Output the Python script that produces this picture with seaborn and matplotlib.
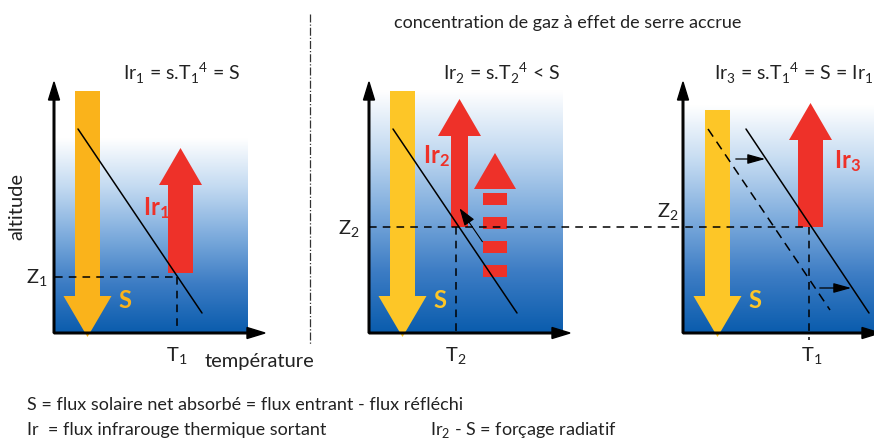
import numpy as np
import matplotlib
matplotlib.use("Agg")
import matplotlib.pyplot as plt
import seaborn as sns
from matplotlib.colors import LinearSegmentedColormap
from matplotlib.patches import FancyArrow, Polygon, Rectangle

sns.set_theme(style="white")
plt.rcParams["font.family"] = ["Lato", "DejaVu Sans"]
plt.rcParams["mathtext.fontset"] = "custom"
plt.rcParams["mathtext.rm"] = "Lato"
plt.rcParams["mathtext.bf"] = "Lato:bold"

# schéma en coordonnées pixel (x vers la droite, y vers le bas)
W, H = 874, 441

panel_x0 = [54, 369, 683]            # axe des altitudes
panel_x1 = [265, 570, 880]           # bout de l'axe des températures
grad_x1 = [248, 563, 874]
grad_top = [138, 90, 105]
axis_y = 333
axis_top = 82

titles = [r"Ir$_1$ = s.T$_1$$^4$ = S", r"Ir$_2$ = s.T$_2$$^4$ < S",
          r"Ir$_3$ = s.T$_1$$^4$ = S = Ir$_1$"]
title_x = [182, 502, 714]
title_ha = ["center", "center", "left"]

# profils de température (x0, y0, x1, y1)
lapse_solid = [(78, 129, 202, 313), (393, 129, 517, 313), (746, 129, 869, 313)]
lapse_dashed = [(708, 129, 830, 310)]

# flèches solaires (x centre, y départ, y pointe)
sun_x = [87.5, 402.5, 717.5]
sun_y0 = [91, 91, 110]
sun_tip = 337
sun_colors = ["#fab31b", "#fdc627", "#fdc627"]

# flèches infrarouges (x centre, y départ, y pointe, largeur)
ir_x = [180.5, 459.5, 810.5]
ir_y0 = [273, 227, 227]
ir_tip = [148, 99, 103]
ir_w = [25, 17, 25]
ir_labels = [r"$\mathbf{Ir_1}$", r"$\mathbf{Ir_2}$", r"$\mathbf{Ir_3}$"]
ir_label_xy = [(156, 208), (436, 156), (847, 161)]

# niveaux d'émission et températures
z_levels = [("Z$_1$", 55, 177, 277), ("Z$_2$", 369, 807, 227)]
z_label_xy = [(37, 278), (349, 229), (668, 212)]
t_lines = [(177, 277, 333), (456, 227, 333), (809, 227, 340)]
t_labels = [("T$_1$", 177), ("T$_2$", 456), ("T$_1$", 812)]

red = "#ee3129"
txt = "#222222"
blues = LinearSegmentedColormap.from_list(
    "atm", ["#ffffff", "#c3daf1", "#7eacdd", "#3c7cc4", "#0a5cad"])

fig = plt.figure(figsize=(W / 100, H / 100), dpi=100)
ax = fig.add_axes([0, 0, 1, 1])
ax.set_xlim(0, W)
ax.set_ylim(H, 0)
ax.axis("off")

grad = np.linspace(0, 1, 256).reshape(-1, 1)
for i in range(3):
    ax.imshow(grad, cmap=blues, aspect="auto", zorder=1,
              extent=(panel_x0[i], grad_x1[i], axis_y, grad_top[i]))

for i in range(3):
    # axes
    ax.add_patch(FancyArrow(panel_x0[i], axis_y, 0, axis_top - axis_y, width=1.6,
                            head_width=11, head_length=18, length_includes_head=True,
                            color="black", zorder=6))
    ax.add_patch(FancyArrow(panel_x0[i], axis_y, panel_x1[i] - panel_x0[i], 0, width=1.6,
                            head_width=11, head_length=18, length_includes_head=True,
                            color="black", zorder=6))
    # flux solaire
    ax.add_patch(FancyArrow(sun_x[i], sun_y0[i], 0, sun_tip - sun_y0[i], width=25,
                            head_width=48, head_length=41, length_includes_head=True,
                            color=sun_colors[i], lw=0, zorder=3))
    ax.text(sun_x[i] + 37, 300, "S", color=sun_colors[i], fontsize=17,
            fontweight="bold", ha="center", va="center", zorder=7)
    # flux infrarouge
    ax.add_patch(FancyArrow(ir_x[i], ir_y0[i], 0, ir_tip[i] - ir_y0[i], width=ir_w[i],
                            head_width=43, head_length=37, length_includes_head=True,
                            color=red, lw=0, zorder=4))
    ax.text(*ir_label_xy[i], ir_labels[i], color=red, fontsize=17,
            ha="center", va="center", zorder=7)
    ax.text(title_x[i], 73, titles[i], fontsize=14, ha=title_ha[i], va="center",
            color=txt)

for x0, y0, x1, y1 in lapse_solid:
    ax.plot([x0, x1], [y0, y1], color="black", lw=1.1, zorder=5)
for x0, y0, x1, y1 in lapse_dashed:
    ax.plot([x0, x1], [y0, y1], color="black", lw=1.1, ls=(0, (6, 4)), zorder=5)

for lab, x0, x1, y in z_levels:
    ax.plot([x0, x1], [y, y], color="black", lw=1.1, ls=(0, (5, 4)), zorder=5)
for (lab, _, _, _), xy in zip(z_levels + [z_levels[1]], z_label_xy):
    ax.text(*xy, lab, fontsize=14.5, ha="center", va="center", color=txt)
for x, y0, y1 in t_lines:
    ax.plot([x, x], [y0, y1], color="black", lw=1.1, ls=(0, (5, 4)), zorder=5)
for lab, x in t_labels:
    ax.text(x, 356, lab, fontsize=14.5, ha="center", va="center", color=txt)

# flèche infrarouge réduite (pointillée) du panneau 2
ax.add_patch(Polygon([(474, 189), (516, 189), (495, 153)], closed=True,
                     color=red, lw=0, zorder=4))
for y in [193, 217, 241, 265]:
    ax.add_patch(Rectangle((483, y), 24, 11.5, color=red, lw=0, zorder=4))
ax.annotate("", xy=(458, 206), xytext=(484, 244), zorder=6,
            arrowprops=dict(arrowstyle="-|>,head_length=0.9,head_width=0.3",
                            color="black", lw=0.8))

# déplacement du profil (panneau 3)
for x0, x1, y in [(733, 768, 159), (817, 854, 288)]:
    ax.annotate("", xy=(x1, y), xytext=(x0, y), zorder=6,
                arrowprops=dict(arrowstyle="-|>,head_length=0.9,head_width=0.25",
                                color="black", lw=0.9))

# séparation et textes
ax.plot([310, 310], [14, 344], color="#333333", lw=0.9, ls="-.")
ax.text(568, 23, "concentration de gaz à effet de serre accrue", fontsize=13,
        ha="center", va="center", color=txt)
ax.text(17, 207, "altitude", fontsize=14.5, rotation=90, ha="center", va="center",
        color=txt)
ax.text(205, 362, "température", fontsize=14.5, ha="left", va="center", color=txt)
ax.text(27, 405, "S = flux solaire net absorbé = flux entrant - flux réfléchi",
        fontsize=13, ha="left", va="center", color=txt)
ax.text(27, 430, "Ir  = flux infrarouge thermique sortant", fontsize=13,
        ha="left", va="center", color=txt)
ax.text(430, 430, r"Ir$_2$ - S = forçage radiatif", fontsize=13,
        ha="left", va="center", color=txt)

fig.savefig("out.png", dpi=100)
